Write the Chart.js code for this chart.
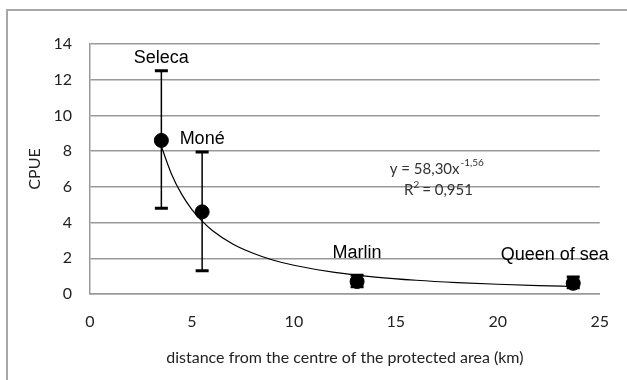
<!DOCTYPE html>
<html>
<head>
<meta charset="utf-8">
<script src="https://cdn.jsdelivr.net/npm/chart.js@4.4.1/dist/chart.umd.min.js"></script>
<style>
    body { margin: 0; background: #fff; }
    canvas { display: block; }
</style>
</head>
<body>
<canvas id="grafica-cpue" width="627" height="380"></canvas>
<script>
//Datos de los sitios
const sitios = ['Seleca', 'Moné', 'Marlin', 'Queen of sea'];
const distancia = [3.5, 5.5, 13.1, 23.7];
const cpue = [8.6, 4.6, 0.7, 0.6];
const errorMin = [4.8, 1.3, 0.4, 0.35];
const errorMax = [12.5, 7.95, 1.05, 0.95];

//Curva de tendencia
const tendenciaX = [3.5, 4, 4.5, 5, 5.5, 6, 7, 8, 9, 10, 12, 14, 16, 18, 20, 22, 23.7];
const tendenciaY = [8.26, 6.71, 5.58, 4.73, 4.08, 3.56, 2.80, 2.28, 1.89, 1.61, 1.21, 0.95, 0.77, 0.64, 0.545, 0.47, 0.42];

//Textos
const ecuacion = 'y = 58,30x';
const exponente = '-1,56';
const r2 = '0,951';
const tituloX = 'distance from the centre of the protected area (km)';
const tituloY = 'CPUE';

const fuente = 'Lato, "Open Sans", sans-serif';

document.addEventListener('DOMContentLoaded', function() {
    createCpueChart();
});

//Marco exterior, barras de error, etiquetas y ecuación
const extrasPlugin = {
    id: 'extras',
    beforeDraw(chart) {
        const ctx = chart.ctx;
        ctx.save();
        ctx.fillStyle = '#fff';
        ctx.fillRect(0, 0, chart.width, chart.height);
        ctx.strokeStyle = '#a8a8a8';
        ctx.lineWidth = 2;
        ctx.strokeRect(7, 10, 700, 500);
        ctx.restore();
    },
    afterDatasetsDraw(chart) {
        const ctx = chart.ctx;
        const xs = chart.scales.x;
        const ys = chart.scales.y;
        ctx.save();
        //Barras de error
        ctx.strokeStyle = '#000';
        for (let i = 0; i < distancia.length; i++) {
            const px = xs.getPixelForValue(distancia[i]);
            const top = ys.getPixelForValue(errorMax[i]);
            const bot = ys.getPixelForValue(errorMin[i]);
            ctx.lineWidth = 1.5;
            ctx.beginPath();
            ctx.moveTo(px, top);
            ctx.lineTo(px, bot);
            ctx.stroke();
            ctx.lineWidth = 3;
            ctx.beginPath();
            ctx.moveTo(px - 6.5, top);
            ctx.lineTo(px + 6.5, top);
            ctx.moveTo(px - 6.5, bot);
            ctx.lineTo(px + 6.5, bot);
            ctx.stroke();
        }
        //Etiquetas de los sitios
        const separacion = [8, 8, 17, 17];
        ctx.fillStyle = '#000';
        ctx.font = '18px "Liberation Sans", Arial, sans-serif';
        ctx.textAlign = 'center';
        ctx.textBaseline = 'alphabetic';
        for (let i = 0; i < sitios.length; i++) {
            let px = xs.getPixelForValue(distancia[i]);
            const w = ctx.measureText(sitios[i]).width;
            if (px + w / 2 > xs.right + 9) px = xs.right + 9 - w / 2;
            const py = ys.getPixelForValue(errorMax[i]) - separacion[i];
            ctx.fillText(sitios[i], px, py);
        }
        //Ecuación de la tendencia
        ctx.fillStyle = '#333';
        ctx.textAlign = 'left';
        ctx.textBaseline = 'middle';
        let ex = xs.getPixelForValue(14.7);
        let ey = ys.getPixelForValue(7.0);
        ctx.font = '15px ' + fuente;
        ctx.fillText(ecuacion, ex, ey);
        let w1 = ctx.measureText(ecuacion).width;
        ctx.font = '10px ' + fuente;
        ctx.fillText(exponente, ex + w1 + 1, ey - 6);
        ex = xs.getPixelForValue(15.4);
        ey = ys.getPixelForValue(5.8);
        ctx.font = '15px ' + fuente;
        ctx.fillText('R', ex, ey);
        w1 = ctx.measureText('R').width;
        ctx.font = '10px ' + fuente;
        ctx.fillText('2', ex + w1, ey - 6);
        ctx.font = '15px ' + fuente;
        ctx.fillText(' = ' + r2, ex + w1 + 5, ey);
        ctx.restore();
    }
};

//Gráfica de CPUE contra distancia
function createCpueChart() {
    const ctx = document.getElementById('grafica-cpue').getContext('2d');
    new Chart(ctx, {
        type: 'scatter',
        data: {
            datasets: [{
                label: 'Tendencia',
                data: tendenciaX.map((x, i) => ({ x: x, y: tendenciaY[i] })),
                showLine: true,
                borderColor: '#000',
                borderWidth: 1.2,
                pointRadius: 0,
                cubicInterpolationMode: 'monotone',
                order: 2
            }, {
                label: 'CPUE',
                data: distancia.map((x, i) => ({ x: x, y: cpue[i] })),
                backgroundColor: '#000',
                borderColor: '#000',
                pointRadius: 7,
                order: 1
            }]
        },
        options: {
            responsive: false,
            animation: false,
            layout: {
                padding: { left: 0, top: 44, right: 26, bottom: 0 }
            },
            plugins: {
                legend: { display: false },
                tooltip: { enabled: false }
            },
            scales: {
                x: {
                    type: 'linear',
                    min: 0,
                    max: 25,
                    afterFit: scale => { scale.height = 86; },
                    ticks: {
                        stepSize: 5,
                        padding: 18,
                        color: '#222',
                        font: { family: fuente, size: 16 }
                    },
                    grid: { display: false, drawTicks: false },
                    border: { display: true, color: '#999', width: 1.5 },
                    title: {
                        display: true,
                        text: tituloX,
                        color: '#222',
                        padding: { top: 0, bottom: 13 },
                        font: { family: fuente, size: 16 }
                    }
                },
                y: {
                    min: 0,
                    max: 14,
                    afterFit: scale => { scale.width = 90; },
                    ticks: {
                        stepSize: 2,
                        padding: 18,
                        color: '#222',
                        font: { family: fuente, size: 16 }
                    },
                    grid: { color: '#999', lineWidth: 1.5, drawTicks: false },
                    border: { display: true, color: '#999', width: 1.5 },
                    title: {
                        display: true,
                        text: tituloY,
                        color: '#222',
                        padding: { top: 25, bottom: 0 },
                        font: { family: fuente, size: 16 }
                    }
                }
            }
        },
        plugins: [extrasPlugin]
    });
}
</script>
</body>
</html>
